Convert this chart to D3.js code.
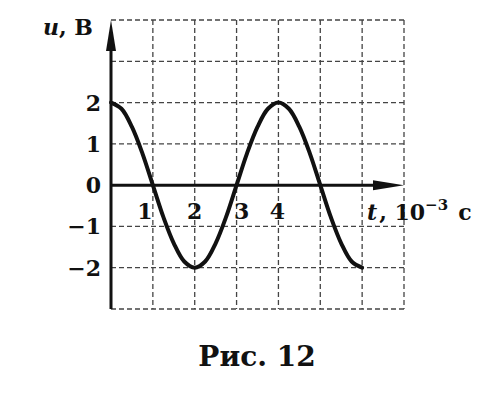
<!DOCTYPE html>
<html>
<head>
<meta charset="utf-8">
<script src="https://cdn.jsdelivr.net/npm/d3@7"></script>
<style>
  html, body { margin: 0; padding: 0; background: #fff; }
  svg { display: block; }
  text { font-family: "DejaVu Serif", "Liberation Serif", serif; font-weight: bold; fill: #111; }
</style>
</head>
<body>
<svg id="chart" width="500" height="420"></svg>
<script>
// ---- data ----
const tValues = [0, 0.25, 0.5, 0.75, 1, 1.25, 1.5, 1.75, 2, 2.25, 2.5, 2.75, 3, 3.25, 3.5, 3.75, 4, 4.25, 4.5, 4.75, 5, 5.25, 5.5, 5.75, 6];
const uValues = [2, 1.85, 1.41, 0.77, 0, -0.77, -1.41, -1.85, -2, -1.85, -1.41, -0.77, 0, 0.77, 1.41, 1.85, 2, 1.85, 1.41, 0.77, 0, -0.77, -1.41, -1.85, -2];
const xTickLabels = ["1", "2", "3", "4"];
const xTickValues = [1, 2, 3, 4];
const yTickValues = [2, 1, 0, -1, -2];
const yTickLabels = ["2", "1", "0", "\u22121", "\u22122"];
const gridX = [0, 1, 2, 3, 4, 5, 6, 7];
const gridY = [-3, -2, -1, 0, 1, 2, 3, 4];

const svg = d3.select("#chart");
const x = d3.scaleLinear().domain([0, 7]).range([111, 404]);
const y = d3.scaleLinear().domain([-3, 4]).range([309, 20]);

// grid
const grid = svg.append("g").attr("stroke", "#444").attr("stroke-width", 1.3)
  .attr("stroke-dasharray", "5,3").attr("fill", "none");
grid.selectAll("line.v").data(gridX.filter(d => d > 0)).join("line")
  .attr("x1", d => x(d)).attr("x2", d => x(d)).attr("y1", y(4)).attr("y2", y(-3));
grid.selectAll("line.h").data(gridY.filter(d => d !== 0)).join("line")
  .attr("class", "h")
  .attr("x1", x(0)).attr("x2", x(7)).attr("y1", d => y(d)).attr("y2", d => y(d));

// axes
svg.append("line").attr("x1", x(0)).attr("x2", x(0)).attr("y1", y(-3)).attr("y2", y(4) + 20)
  .attr("stroke", "#111").attr("stroke-width", 3);
svg.append("line").attr("x1", x(0)).attr("x2", x(7) - 20).attr("y1", y(0)).attr("y2", y(0))
  .attr("stroke", "#111").attr("stroke-width", 3);
// arrowheads
svg.append("path")
  .attr("d", `M${x(0)},${y(4)} L${x(0) - 5},${y(4) + 31} L${x(0) + 5},${y(4) + 31} Z`)
  .attr("fill", "#111");
svg.append("path")
  .attr("d", `M${x(7)},${y(0)} L${x(7) - 31},${y(0) - 5} L${x(7) - 31},${y(0) + 5} Z`)
  .attr("fill", "#111");

// curve
const pts = tValues.map((t, i) => [t, uValues[i]]);
svg.append("path").datum(pts)
  .attr("d", d3.line().x(d => x(d[0])).y(d => y(d[1])).curve(d3.curveCatmullRom.alpha(0.5)))
  .attr("fill", "none").attr("stroke", "#111").attr("stroke-width", 4)
  .attr("stroke-linecap", "round");

// y tick labels
svg.append("g").selectAll("text").data(yTickValues).join("text")
  .attr("x", 101).attr("y", d => y(d) + 8)
  .attr("text-anchor", "end").attr("font-size", 22)
  .text((d, i) => yTickLabels[i]);

// x tick labels
const xOffsets = [-8, 0, 5, -1];
svg.append("g").selectAll("text").data(xTickValues).join("text")
  .attr("x", (d, i) => x(d) + xOffsets[i]).attr("y", 219)
  .attr("text-anchor", "middle").attr("font-size", 22)
  .text((d, i) => xTickLabels[i]);

// axis titles
const yt = svg.append("text").attr("x", 43).attr("y", 35).attr("font-size", 22);
yt.append("tspan").attr("font-style", "italic").text("u");
yt.append("tspan").text(", B");

const xt = svg.append("text").attr("x", 367).attr("y", 220).attr("font-size", 22);
xt.append("tspan").attr("font-style", "italic").text("t");
xt.append("tspan").attr("dx", 2).text(", 10");
xt.append("tspan").attr("dy", -10).attr("font-size", 15).text("\u22123");
xt.append("tspan").attr("dy", 10).attr("dx", 10).text("c");

// caption
svg.append("text").attr("x", 257).attr("y", 366).attr("text-anchor", "middle")
  .attr("font-size", 28).text("Рис. 12");
</script>
</body>
</html>
